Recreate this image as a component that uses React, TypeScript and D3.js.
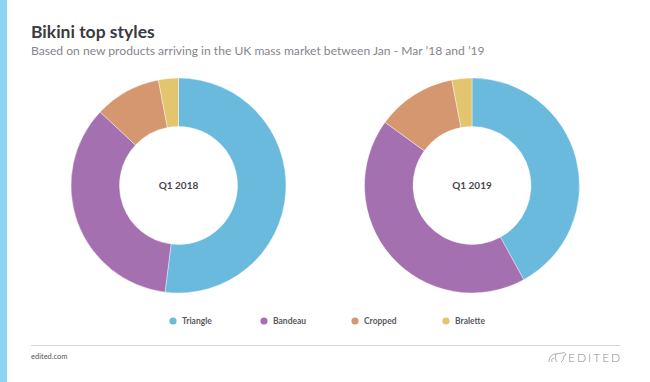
import React, { useEffect, useRef } from 'react';
import * as d3 from 'd3';

const styles = ['Triangle', 'Bandeau', 'Cropped', 'Bralette'];
const colors = ['#6abadd', '#a470b0', '#d59770', '#e2c56e'];
const periods = ['Q1 2018', 'Q1 2019'];
const share2018 = [52, 35, 10, 3];
const share2019 = [42, 43, 12, 3];

const W = 650;
const H = 382;

const App: React.FC = () => {
  const svgRef = useRef<SVGSVGElement>(null);

  useEffect(() => {
    if (!svgRef.current) return;
    document.body.style.margin = '0';

    const svg = d3.select(svgRef.current);
    svg.selectAll('*').remove();
    const font = 'Lato, "Open Sans", sans-serif';

    svg.append('rect').attr('width', W).attr('height', H).attr('fill', '#fff');
    // accent stripe down the left edge
    svg.append('rect').attr('width', 7).attr('height', H).attr('fill', '#8dd3f2');

    svg.append('text')
      .attr('x', 31).attr('y', 37.5)
      .style('font-family', font).style('font-size', '17.5px').style('font-weight', '700')
      .style('fill', '#3a3a40')
      .text('Bikini top styles');

    svg.append('text')
      .attr('x', 31).attr('y', 55)
      .style('font-family', font).style('font-size', '12.1px')
      .style('fill', '#85858c')
      .text('Based on new products arriving in the UK mass market between Jan - Mar \u201918 and \u201919');

    const color = d3.scaleOrdinal<string, string>().domain(styles).range(colors);
    const cx = d3.scalePoint<string>().domain(periods).range([178.5, 472]);
    const cy = 185.5;

    const pie = d3.pie<number>().sort(null).value(d => d);
    const arc = d3.arc<d3.PieArcDatum<number>>().innerRadius(59).outerRadius(107.5);

    [share2018, share2019].forEach((values, k) => {
      const period = periods[k];
      const g = svg.append('g').attr('transform', `translate(${cx(period)},${cy})`);
      g.selectAll('path')
        .data(pie(values))
        .join('path')
        .attr('d', arc as any)
        .attr('fill', (_, i) => color(styles[i]))
        .attr('stroke', '#fff')
        .attr('stroke-width', 0.4);
      g.append('text')
        .attr('text-anchor', 'middle')
        .attr('dy', '0.35em')
        .style('font-family', font).style('font-size', '10px').style('font-weight', '700')
        .style('fill', '#48484e')
        .text(period);
    });

    // legend
    const lx = d3.scalePoint<string>().domain(styles).range([173, 446]);
    const legend = svg.append('g').attr('transform', 'translate(0,321)');
    const item = legend.selectAll('g')
      .data(styles)
      .join('g')
      .attr('transform', d => `translate(${lx(d)},0)`);
    item.append('circle').attr('r', 3.6).attr('fill', d => color(d));
    item.append('text')
      .attr('x', 9).attr('dy', '0.35em')
      .style('font-family', font).style('font-size', '8.5px').style('font-weight', '700')
      .style('fill', '#5a5a60')
      .text(d => d);

    // footer
    svg.append('line')
      .attr('x1', 31).attr('x2', 620).attr('y1', 345.5).attr('y2', 345.5)
      .attr('stroke', '#d4d4d8').attr('stroke-width', 1);
    svg.append('text')
      .attr('x', 31).attr('y', 359)
      .style('font-family', font).style('font-size', '7.5px')
      .style('fill', '#55555b')
      .text('edited.com');

    const logo = svg.append('g').attr('transform', 'translate(548,351)');
    logo.append('path')
      .attr('d', 'M1,11 C1,6 4,3 8,3 L14,2 C16,1 18,2 18,4 L16,5 L15,9 L13,11 M8,3 C7,6 7,9 9,11 M4,11 C3,9 4,7 6,7')
      .attr('fill', 'none').attr('stroke', '#9a9aa0').attr('stroke-width', 0.8);
    svg.append('text')
      .attr('x', 568).attr('y', 361.5)
      .style('font-family', font).style('font-size', '12px').style('font-weight', '300')
      .style('letter-spacing', '2px')
      .style('fill', '#8c8c92')
      .text('EDITED');
  }, []);

  return <svg ref={svgRef} width={W} height={H} style={{ display: 'block' }} />;
};

export default App;
